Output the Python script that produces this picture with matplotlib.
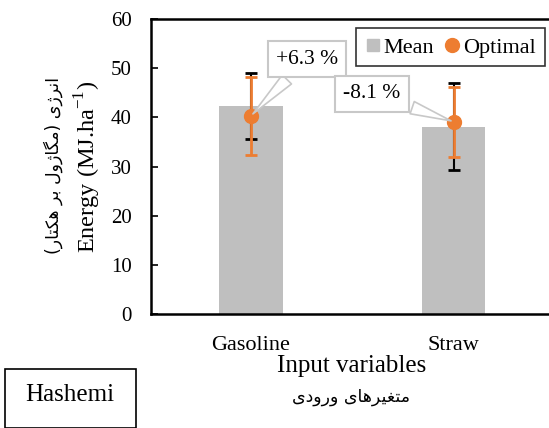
import matplotlib
matplotlib.use("Agg")
import matplotlib.pyplot as plt
from matplotlib.patches import Rectangle
from matplotlib.lines import Line2D

# Data
categories = ["Gasoline", "Straw"]
mean_vals = [42.3, 38.1]
mean_err = [6.7, 8.9]
optimal_vals = [40.3, 39.1]
optimal_err = [8.0, 7.1]
change_labels = ["+6.3 %", "-8.1 %"]

# Persian text, shaped by hand (presentation forms, visual order)
def visual(codes):
    return "".join(chr(c) if isinstance(c, int) else c for c in reversed(codes))

fa_xlabel = visual([0xFEE3, 0xFE98, 0xFED0, 0xFEF4, 0xFEAE, 0xFEEB, 0xFE8E, 0xFEEF, " ",
                    0xFEED, 0xFEAD, 0xFEED, 0xFEA9, 0xFEEF])
fa_ylabel = visual([0xFE8D, 0xFEE7, 0xFEAE, 0x0698, 0xFEEF, " ", ")",
                    0xFEE3, 0xFB95, 0xFE8E, 0x0698, 0xFEED, 0xFEDD, " ",
                    0xFE91, 0xFEAE, " ",
                    0xFEEB, 0xFB91, 0xFE98, 0xFE8E, 0xFEAD, "("])

plt.rcParams["font.family"] = ["Liberation Serif", "DejaVu Sans"]
plt.rcParams["mathtext.fontset"] = "custom"
plt.rcParams["mathtext.rm"] = "Liberation Serif"

W, H = 549, 428
fig = plt.figure(figsize=(W / 100, H / 100), dpi=100)
ax = fig.add_axes([151 / W, 1 - 314 / H, 398 / W, 295 / H])

x = [0, 1]
ax.bar(x, mean_vals, width=0.313, color="#BFBFBF", zorder=1)
ax.errorbar(x, mean_vals, yerr=mean_err, fmt="none", ecolor="black",
            elinewidth=1.5, capsize=4, capthick=2, zorder=2)
ax.errorbar(x, optimal_vals, yerr=optimal_err, fmt="o", color="#ED7D31",
            ecolor="#ED7D31", elinewidth=2, capsize=4, capthick=2,
            markersize=10, zorder=3)

ax.set_xlim(-0.493, 1.47)
ax.set_ylim(0, 60)
ax.set_yticks(range(0, 61, 10))
ax.set_xticks(x)
ax.set_xticklabels(categories)
ax.tick_params(axis="y", direction="in", length=5, width=1.2, labelsize=15, pad=14)
ax.tick_params(axis="x", length=0, labelsize=16, pad=16)
for s in ["left", "top", "bottom"]:
    ax.spines[s].set_linewidth(1.8)
ax.spines["right"].set_visible(False)

# callouts
for xi, yi, lab, pos in zip(x, optimal_vals, change_labels, [(307, H - 59), (372, H - 94)]):
    ax.annotate(lab, xy=(xi, yi), xytext=pos, textcoords="figure pixels",
                ha="center", va="center", fontsize=15.5,
                bbox=dict(boxstyle="square,pad=0.38", fc="white", ec="#C8C8C8", lw=1.5),
                arrowprops=dict(arrowstyle="wedge,tail_width=0.6,shrink_factor=0.5",
                                fc="white", ec="#C8C8C8", lw=1.2),
                zorder=4)

handles = [Line2D([], [], ls="none", marker="s", ms=9, color="#BFBFBF"),
           Line2D([], [], ls="none", marker="o", ms=10, color="#ED7D31")]
leg = ax.legend(handles, ["Mean", "Optimal"], loc="upper right",
                bbox_to_anchor=(0.99, 0.969), ncol=2,
                fontsize=16, frameon=True, fancybox=False, borderaxespad=0,
                handlelength=0.7, handletextpad=0.15, columnspacing=0.45,
                borderpad=0.4)
leg.get_frame().set_edgecolor("black")
leg.get_frame().set_linewidth(1.2)

# axis titles
fig.text(352 / W, 1 - 366 / H, "Input variables", ha="center", va="center", fontsize=18)
fig.text(351 / W, 1 - 397 / H, fa_xlabel, ha="center", va="center", fontsize=12.5,
         family="DejaVu Sans")
fig.text(88 / W, 1 - 167 / H, "Energy (MJ.ha$^{\\mathregular{-1}}$)", rotation=90,
         ha="center", va="center", fontsize=17.5)
fig.text(53 / W, 1 - 166 / H, fa_ylabel, rotation=90, ha="center", va="center",
         fontsize=12.5, family="DejaVu Sans")

# name box
fig.patches.append(Rectangle((5 / W, 0), 131 / W, (H - 369) / H, transform=fig.transFigure,
                             fill=False, ec="black", lw=1.2))
fig.text(70 / W, 1 - 395 / H, "Hashemi", ha="center", va="center", fontsize=18)

fig.savefig("out.png", dpi=100)
